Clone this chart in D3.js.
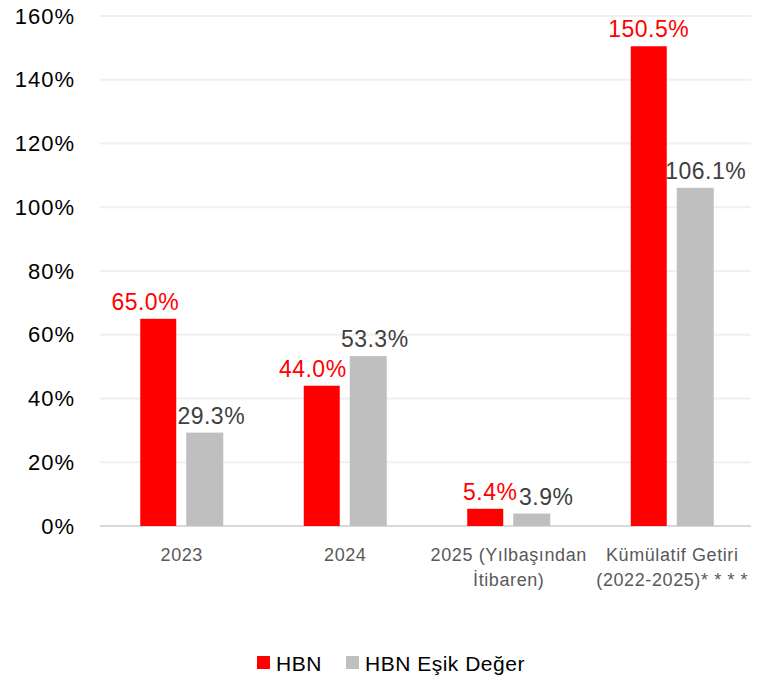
<!DOCTYPE html>
<html>
<head>
<meta charset="utf-8">
<script src="https://cdn.jsdelivr.net/npm/d3@7"></script>
<style>
  body { margin: 0; background: #fff; }
  text { font-family: "Liberation Sans", Arial, sans-serif; }
</style>
</head>
<body>
<svg width="761" height="680"></svg>
<script>
// kategoriler (iki satırlı etiketler)
var categories = [
  ["2023"],
  ["2024"],
  ["2025 (Yılbaşından", "İtibaren)"],
  ["Kümülatif Getiri", "(2022-2025)* * * *"]
];
var seriesNames = ["HBN", "HBN Eşik Değer"];
var hbn = [65.0, 44.0, 5.4, 150.5];
var esik = [29.3, 53.3, 3.9, 106.1];
var yTicks = [0, 20, 40, 60, 80, 100, 120, 140, 160];
var colors = ["#ff0000", "#bfbfbf"];
var labelColors = ["#ff0000", "#404040"];
// etiketlerin yatay kaydırması (Excel'deki gibi)
var labelNudge = [[-13, 7], [-9, 7], [5, 15], [0, 11]];

(function () {
  var svg = d3.select("svg");

  var x = d3.scaleBand()
    .domain(d3.range(categories.length))
    .range([100, 754]);

  var y = d3.scaleLinear()
    .domain([0, 160])
    .range([526, 16]);

  // grid
  svg.append("g").selectAll("line")
    .data(yTicks.slice(1))
    .enter().append("line")
    .attr("x1", 100).attr("x2", 751)
    .attr("y1", function (d) { return y(d); })
    .attr("y2", function (d) { return y(d); })
    .attr("stroke", "#f0f0f0")
    .attr("stroke-width", 2);

  svg.append("line")
    .attr("x1", 100).attr("x2", 751)
    .attr("y1", y(0)).attr("y2", y(0))
    .attr("stroke", "#d9d9d9")
    .attr("stroke-width", 2);

  // y ekseni etiketleri
  svg.append("g").selectAll("text")
    .data(yTicks)
    .enter().append("text")
    .attr("x", 75)
    .attr("y", function (d) { return y(d); })
    .attr("dy", ".35em")
    .attr("text-anchor", "end")
    .attr("font-size", 22)
    .attr("letter-spacing", 1)
    .attr("fill", "#000")
    .text(function (d) { return d + "%"; });

  var series = [hbn, esik];
  var barW = 36, gap = 10;

  function barX(i, s) {
    var c = x(i) + x.bandwidth() / 2;
    return s === 0 ? c - gap / 2 - barW - 0.5 : c + gap / 2 - 0.5;
  }

  series.forEach(function (vals, s) {
    var g = svg.append("g");
    g.selectAll("rect")
      .data(vals)
      .enter().append("rect")
      .attr("x", function (d, i) { return barX(i, s); })
      .attr("width", barW + (s === 1 ? 1 : 0))
      .attr("y", function (d) { return y(d); })
      .attr("height", function (d) { return y(0) - y(d); })
      .attr("fill", colors[s]);

    g.selectAll("text")
      .data(vals)
      .enter().append("text")
      .attr("x", function (d, i) { return barX(i, s) + barW / 2 + labelNudge[i][s]; })
      .attr("y", function (d) { return y(d) - 9; })
      .attr("text-anchor", "middle")
      .attr("font-size", 23)
      .attr("letter-spacing", 0.5)
      .attr("fill", labelColors[s])
      .text(function (d) { return d.toFixed(1) + "%"; });
  });

  // kategori etiketleri
  var cat = svg.append("g").selectAll("text")
    .data(categories)
    .enter().append("text")
    .attr("x", function (d, i) { return x(i) + x.bandwidth() / 2; })
    .attr("y", 561)
    .attr("text-anchor", "middle")
    .attr("font-size", 18)
    .attr("letter-spacing", 0.6)
    .attr("fill", "#595959");

  cat.selectAll("tspan")
    .data(function (d) { return d; })
    .enter().append("tspan")
    .attr("x", function () { return d3.select(this.parentNode).attr("x"); })
    .attr("dy", function (d, j) { return j ? 25 : 0; })
    .text(function (d) { return d; });

  // lejant
  var legX = [257, 346];
  var leg = svg.append("g");
  seriesNames.forEach(function (n, s) {
    leg.append("rect")
      .attr("x", legX[s]).attr("y", 656)
      .attr("width", 13).attr("height", 13)
      .attr("fill", colors[s]);
    leg.append("text")
      .attr("x", legX[s] + 19).attr("y", 671)
      .attr("font-size", 21)
      .attr("letter-spacing", 0.5)
      .attr("fill", "#000")
      .text(n);
  });
})();
</script>
</body>
</html>
